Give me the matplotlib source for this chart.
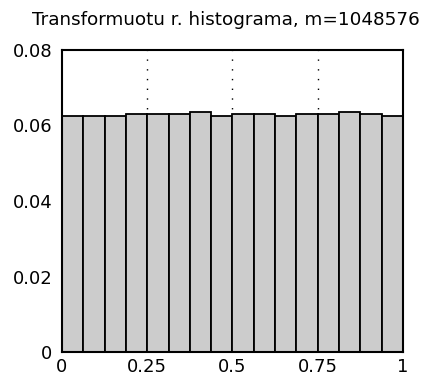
import numpy as np
import matplotlib
matplotlib.use('Agg')
import matplotlib.pyplot as plt

# Bin edges (16 equal bins on [0, 1]) and relative frequencies
bin_edges = [i / 16 for i in range(17)]
freqs = [0.0625, 0.0625, 0.0625, 0.0630, 0.0630, 0.0630, 0.0635, 0.0625,
         0.0630, 0.0630, 0.0625, 0.0630, 0.0630, 0.0635, 0.0630, 0.0625]
x_ticks = [0, 0.25, 0.5, 0.75, 1]
x_tick_labels = ['0', '0.25', '0.5', '0.75', '1']
y_ticks = [0, 0.02, 0.04, 0.06, 0.08]
y_tick_labels = ['0', '0.02', '0.04', '0.06', '0.08']
title = 'Transformuotu r. histograma, m=1048576'

plt.rcParams['font.family'] = ['DejaVu Sans']

fig = plt.figure(figsize=(4.27, 3.78), dpi=100)
ax = fig.add_axes([62 / 427, 1 - 352 / 378, 341 / 427, 302 / 378])

# grid first, bars drawn over it
for xv in x_ticks[1:-1]:
    ax.axvline(xv, color='black', linestyle=(0, (1, 6)), linewidth=1.0, zorder=1)

widths = np.diff(bin_edges)
ax.bar(bin_edges[:-1], freqs, width=widths, align='edge', color='#cccccc',
       edgecolor='black', linewidth=1.3, zorder=2)

ax.set_xlim(0, 1)
ax.set_ylim(0, 0.08)
ax.set_xticks(x_ticks)
ax.set_xticklabels(x_tick_labels)
ax.set_yticks(y_ticks)
ax.set_yticklabels(y_tick_labels)
ax.tick_params(axis='y', length=0, labelsize=13, pad=7)
ax.tick_params(axis='x', length=0, labelsize=13, pad=4)
for s in ax.spines.values():
    s.set_linewidth(1.5)
    s.set_zorder(3)

# reference title runs off the right edge; keep it just inside
fig.text(226 / 427, 1 - 20 / 378, title, ha='center', va='center', fontsize=13.2)

fig.savefig('out.png', dpi=100)
